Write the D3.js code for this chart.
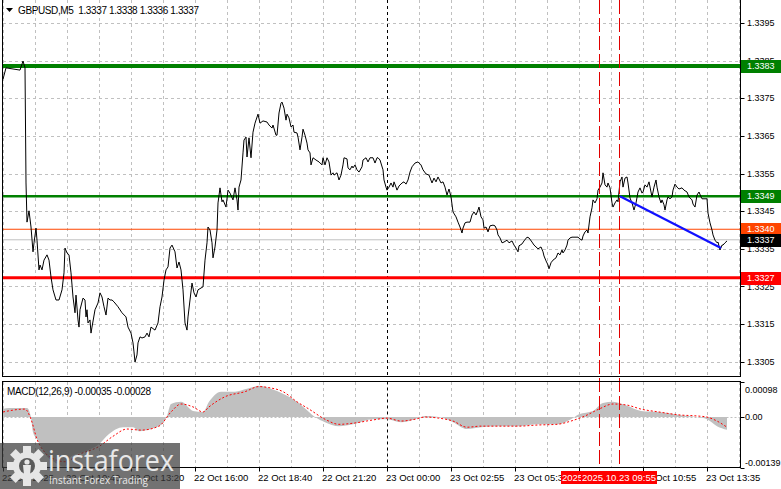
<!DOCTYPE html>
<html>
<head>
<meta charset="utf-8">
<script src="https://cdn.jsdelivr.net/npm/d3@7"></script>
<style>
  html, body { margin: 0; padding: 0; background: #fff; }
  svg { display: block; font-family: "Liberation Sans", Arial, sans-serif; }
</style>
</head>
<body>
<div id="showBox"></div>
<script>
// price readings: [bar index, close]
const closes = [
  [0,1.33801],[1.5,1.33831],[8.5,1.33825],[10,1.33849],[11,1.33831],[11.5,1.33525],[12,1.33421],[13,1.33451],
  [14,1.33408],[15,1.33342],[15.5,1.33366],[16.5,1.33405],[17,1.33373],[18,1.33294],[18.5,1.33307],[19.5,1.33294],
  [20.5,1.33320],[22,1.33334],[23,1.33320],[24,1.33275],[25,1.33241],[26.5,1.33214],[28,1.33214],[29.5,1.33241],
  [30.5,1.33286],[31,1.33352],[32,1.33339],[33,1.33334],[34,1.33286],[35,1.33222],[36,1.33180],[36.5,1.33227],
  [37.5,1.33161],[38,1.33142],[38.5,1.33188],[40,1.33219],[41,1.33214],[41.5,1.33169],[42,1.33188],[42.5,1.33153],
  [43.5,1.33161],[44,1.33126],[44.5,1.33142],[46,1.33188],[47.5,1.33206],[48.5,1.33233],[49.5,1.33222],[50.5,1.33196],
  [51.5,1.33174],[52.5,1.33219],[53.5,1.33214],[54.5,1.33214],[55.5,1.33209],[57.5,1.33196],[59.5,1.33180],[61.5,1.33169],
  [62.5,1.33142],[64,1.33126],[65,1.33100],[65.5,1.33076],[66,1.33049],[67,1.33068],[67.5,1.33100],[68.5,1.33116],
  [69.5,1.33113],[71,1.33116],[72,1.33126],[73,1.33116],[74,1.33142],[76,1.33134],[77.5,1.33153],[78.5,1.33196],
  [79.5,1.33222],[80.5,1.33267],[81.5,1.33294],[82.5,1.33302],[83.5,1.33352],[84.5,1.33360],[86,1.33342],[87,1.33299],
  [88,1.33315],[89,1.33294],[90,1.33241],[91,1.33153],[92,1.33134],[92.5,1.33169],[93.5,1.33214],[94.5,1.33259],
  [95.5,1.33233],[96.5,1.33222],[97.5,1.33241],[100,1.33249],[101,1.33320],[102,1.33366],[102.5,1.33408],[103.5,1.33400],
  [104.5,1.33366],[105,1.33326],[106,1.33355],[107,1.33400],[107.5,1.33472],[108.5,1.33512],[109.5,1.33475],[110,1.33480],
  [111.5,1.33461],[112.5,1.33506],[113.5,1.33498],[115,1.33480],[116,1.33512],[117,1.33480],[117.5,1.33453],[118,1.33514],
  [119,1.33533],[120,1.33605],[120.5,1.33639],[121.5,1.33647],[122,1.33594],[123,1.33645],[124,1.33592],[125,1.33660],
  [126,1.33684],[127.5,1.33708],[128.5,1.33684],[130,1.33690],[132,1.33687],[133,1.33679],[134.5,1.33671],[135,1.33679],
  [136.5,1.33652],[137,1.33652],[138,1.33711],[139,1.33737],[139.5,1.33740],[140.5,1.33724],[141.5,1.33692],[142,1.33708],
  [143,1.33698],[144,1.33674],[145,1.33679],[145.5,1.33660],[147,1.33658],[147.5,1.33647],[148.5,1.33613],[149.5,1.33647],
  [150,1.33668],[151,1.33652],[152,1.33631],[152.5,1.33613],[153.5,1.33605],[154,1.33573],[155,1.33592],[156.5,1.33586],
  [158,1.33581],[159.5,1.33573],[160,1.33592],[161,1.33573],[162,1.33592],[163,1.33581],[164,1.33546],[165,1.33552],
  [165.5,1.33546],[167,1.33552],[168,1.33533],[169,1.33546],[170,1.33573],[170.5,1.33592],[172,1.33589],[172.5,1.33565],
  [173.5,1.33560],[174.5,1.33570],[175,1.33565],[176,1.33573],[177,1.33560],[178,1.33554],[179.5,1.33568],[180,1.33586],
  [181.5,1.33592],[182.5,1.33581],[183.5,1.33592],[185,1.33592],[186,1.33578],[187,1.33592],[187.5,1.33592],[188.5,1.33586],
  [190,1.33560],[190.5,1.33533],[191.5,1.33514],[192,1.33506],[193,1.33514],[194,1.33525],[195,1.33514],[195.5,1.33528],
  [196.5,1.33514],[197,1.33506],[198,1.33517],[199.5,1.33525],[200.5,1.33528],[201.5,1.33522],[202.5,1.33533],[203.5,1.33554],
  [204.5,1.33568],[206,1.33578],[207.5,1.33581],[209,1.33573],[210,1.33560],[211.5,1.33549],[213,1.33546],[214.5,1.33525],
  [215.5,1.33538],[216.5,1.33528],[217.5,1.33541],[219,1.33525],[220,1.33528],[221,1.33514],[222,1.33493],[223,1.33509],
  [224,1.33488],[225,1.33448],[226.5,1.33435],[227.5,1.33421],[228.5,1.33408],[229.5,1.33392],[230,1.33405],[231,1.33419],
  [232,1.33421],[233.5,1.33421],[234.5,1.33440],[235.5,1.33448],[236.5,1.33440],[237.5,1.33453],[238,1.33461],[239,1.33435],
  [240,1.33427],[240.5,1.33405],[241.5,1.33408],[242.5,1.33395],[243.5,1.33411],[245,1.33413],[246,1.33411],[247,1.33400],
  [247.5,1.33387],[248.5,1.33379],[249.5,1.33366],[250.5,1.33368],[252,1.33373],[253,1.33366],[254.5,1.33371],[255.5,1.33360],
  [256.5,1.33352],[257.5,1.33342],[258,1.33358],[259.5,1.33363],[260.5,1.33371],[262,1.33381],[263,1.33379],[264.5,1.33368],
  [265.5,1.33360],[266.5,1.33355],[267.5,1.33350],[269,1.33355],[270,1.33342],[270.5,1.33331],[271.5,1.33318],[272.5,1.33307],
  [273,1.33297],[274,1.33313],[275,1.33320],[276.5,1.33326],[277.5,1.33339],[278.5,1.33334],[279.5,1.33347],[280,1.33339],
  [281,1.33347],[282,1.33360],[282.5,1.33373],[283.5,1.33379],[284.5,1.33381],[286,1.33381],[287.5,1.33381],[288.5,1.33376],
  [289.5,1.33373],[290,1.33384],[291,1.33395],[292,1.33400],[292.5,1.33392],[293.5,1.33435],[294.5,1.33459],[295,1.33480],
  [296,1.33472],[297,1.33483],[297.5,1.33506],[298.5,1.33514],[299.5,1.33525],[300,1.33552],[301,1.33520],[302,1.33514],
  [302.5,1.33525],[303.5,1.33512],[304.5,1.33472],[305,1.33461],[306,1.33472],[307,1.33480],[307.5,1.33475],[308.5,1.33528],
  [309.5,1.33541],[310,1.33514],[311,1.33538],[312,1.33541],[312.5,1.33525],[313.5,1.33485],[314.5,1.33472],[315.5,1.33453],
  [316.5,1.33472],[317.5,1.33501],[318.5,1.33512],[319.5,1.33498],[320,1.33501],[321,1.33520],[322,1.33514],[323,1.33528],
  [324,1.33501],[324.5,1.33488],[325.5,1.33514],[326.5,1.33533],[327,1.33514],[328,1.33488],[329,1.33472],[329.5,1.33480],
  [330.5,1.33467],[331,1.33453],[332,1.33480],[332.5,1.33488],[333.5,1.33483],[334.5,1.33488],[335,1.33506],[336,1.33522],
  [337,1.33514],[338,1.33509],[339.5,1.33512],[340.5,1.33506],[342,1.33501],[343,1.33488],[344.5,1.33480],[345,1.33469],
  [346,1.33461],[347,1.33493],[348,1.33501],[349,1.33488],[349.5,1.33483],[351,1.33483],[352,1.33483],[352.5,1.33445],
  [353.5,1.33419],[354.5,1.33400],[355,1.33387],[356,1.33373],[357,1.33366],[357.5,1.33368],[358.5,1.33347],[359.5,1.33360],
  [360,1.33360],[361,1.33366],[362,1.33371]
];

// MACD main (histogram) and signal readings: [bar index, value]
const macdMain = [
  [0,0.00022],[3,0.00025],[12,0.00025],[14,0],[15,-0.00042],[17,-0.00061],[19,-0.00081],[22,-0.00109],[26,-0.00125],
  [31,-0.00137],[34,-0.00109],[41,-0.00095],[48,-0.00075],[53,-0.00047],[60,-0.00028],[65,-0.00028],[68,-0.00039],
  [75,-0.00031],[80,-0.00017],[82,0.00003],[84,0.00036],[89,0.00042],[95,0.00017],[100,0.00014],[103,0.00042],
  [109,0.0007],[116,0.0007],[122,0.00078],[128,0.00086],[134,0.00078],[140,0.00064],[147,0.00042],[153,0.00014],
  [156,0],[161,-0.00014],[168,-0.00025],[175,-0.0002],[185,-0.00006],[192,-0.00006],[199,-0.00014],[206,-0.00006],
  [211,0.00003],[218,0],[225,-0.00014],[232,-0.00033],[239,-0.00028],[248,-0.00025],[258,-0.00025],[267,-0.0002],
  [277,-0.0002],[284,-0.00006],[288,0.00008],[295,0.00017],[300,0.00039],[305,0.00042],[312,0.00031],[319,0.00017],
  [328,0.00014],[338,0.00006],[347,0],[352,-0.00006],[357,-0.00025],[362,-0.00035]
];
const macdSignal = [
  [0,0.00014],[11,0.00022],[14,-0.00006],[17,-0.00061],[21,-0.00098],[26,-0.00117],[31,-0.00123],[38,-0.00103],
  [48,-0.00081],[55,-0.00053],[62,-0.00033],[69,-0.00036],[78,-0.00025],[84,0.00014],[89,0.00036],[95,0.00028],
  [100,0.00014],[103,0.00028],[111,0.00056],[121,0.0007],[128,0.00084],[133,0.00081],[140,0.0007],[147,0.00042],
  [153,0.00022],[161,-0.00006],[168,-0.0002],[175,-0.00017],[185,-0.00008],[192,-0.00003],[199,-0.00011],[206,-0.00006],
  [211,0],[218,-0.00003],[225,-0.00011],[232,-0.00028],[239,-0.00025],[248,-0.00025],[258,-0.00025],[267,-0.00022],
  [277,-0.0002],[284,-0.00011],[291,0.00003],[298,0.00022],[305,0.00036],[312,0.00033],[319,0.00022],[328,0.00014],
  [338,0.00006],[347,0.00003],[352,0],[357,-0.00011],[362,-0.00028]
];

const priceTicks = [1.3395, 1.3385, 1.3375, 1.3365, 1.3355, 1.3345, 1.3335, 1.3325, 1.3315, 1.3305];
const levelValues = [1.33836, 1.3349, 1.33402, 1.33374, 1.33273];
const levelLabels = ["1.3383", "1.3349", "1.3340", "1.3337", "1.3327"];
const levelColors = ["#008000", "#008000", "#ff4500", "#c0c0c0", "#ff0000"];
const levelBoxColors = ["#008000", "#008000", "#ff4500", "#000000", "#ff0000"];
const levelWidths = [4, 2.5, 1, 1, 3];

const timeBars = [0, 32, 64, 96, 128, 160, 192, 224, 256, 288, 320, 352];
const timeLabels = ["22 Oct 2025", "22 Oct 10:40", "22 Oct 13:20", "22 Oct 16:00", "22 Oct 18:40", "22 Oct 21:20",
  "23 Oct 00:00", "23 Oct 02:55", "23 Oct 05:35", "23 Oct 08:15", "23 Oct 10:55", "23 Oct 13:35"];
const daySeparatorBar = 192;
const markerBars = [298, 308];
const markerLabels = ["2025.10.23 09:05", "2025.10.23 09:55"];
const trendStart = [308.5, 1.3349];
const trendEnd = [359, 1.33352];
const macdTicks = [0.00098, 0, -0.00139];
const macdTickLabels = ["0.00098", "0.00", "-0.00139"];

const W = 781, H = 489;
const left = 2.5, right = 740.5;
const main = {top: 0, bottom: 376.5};
const sub = {top: 381.5, bottom: 467.5};

const svg = d3.select("#showBox").append("svg").attr("width", W).attr("height", H);

const x = d3.scaleLinear().domain([0, 369]).range([3, 741]);
const y = d3.scaleLinear().domain([1.3305, 1.3385]).range([361.7, 60.7]);
const ym = d3.scaleLinear().domain([-0.00139, 0.00098]).range([sub.bottom, sub.top]);

svg.append("defs").call(d => {
  d.append("clipPath").attr("id", "clipMain").append("rect")
    .attr("x", left).attr("y", main.top).attr("width", right - left).attr("height", main.bottom - main.top);
  d.append("clipPath").attr("id", "clipSub").append("rect")
    .attr("x", left).attr("y", sub.top).attr("width", right - left).attr("height", sub.bottom - sub.top);
});

// grid
const gridBars = d3.range(0, 369, 16);
const grid = svg.append("g").attr("stroke", "#c0c0c0").attr("stroke-dasharray", "3,3").attr("shape-rendering", "crispEdges");
grid.selectAll(".v").data(gridBars.filter(b => b !== daySeparatorBar)).join("line")
  .attr("x1", d => Math.round(x(d)) + 0.5).attr("x2", d => Math.round(x(d)) + 0.5)
  .attr("y1", main.top).attr("y2", main.bottom);
grid.selectAll(".vs").data(gridBars.filter(b => b !== daySeparatorBar)).join("line")
  .attr("x1", d => Math.round(x(d)) + 0.5).attr("x2", d => Math.round(x(d)) + 0.5)
  .attr("y1", sub.top).attr("y2", sub.bottom);
grid.selectAll(".h").data(priceTicks).join("line")
  .attr("x1", left).attr("x2", right)
  .attr("y1", d => Math.round(y(d)) + 0.5).attr("y2", d => Math.round(y(d)) + 0.5);
svg.append("line").attr("x1", left).attr("x2", right)
  .attr("y1", Math.round(ym(0)) + 0.5).attr("y2", Math.round(ym(0)) + 0.5)
  .attr("stroke", "#c0c0c0").attr("stroke-dasharray", "2,2");

// day separator
[[main.top, main.bottom], [sub.top, sub.bottom]].forEach(([a, b]) => {
  svg.append("line").attr("x1", Math.round(x(daySeparatorBar)) + 0.5).attr("x2", Math.round(x(daySeparatorBar)) + 0.5)
    .attr("y1", a).attr("y2", b).attr("stroke", "#000").attr("stroke-dasharray", "3,3");
});

// MACD histogram and signal
const gSub = svg.append("g").attr("clip-path", "url(#clipSub)");
gSub.append("path").datum(macdMain)
  .attr("fill", "#c0c0c0")
  .attr("d", d3.area().x(d => x(d[0])).y0(ym(0)).y1(d => ym(d[1])).curve(d3.curveMonotoneX));
gSub.append("path").datum(macdSignal)
  .attr("fill", "none").attr("stroke", "#ff0000").attr("stroke-width", 1).attr("stroke-dasharray", "2,2")
  .attr("d", d3.line().x(d => x(d[0])).y(d => ym(d[1])).curve(d3.curveMonotoneX));

// level lines
const gMain = svg.append("g").attr("clip-path", "url(#clipMain)");
gMain.selectAll(".lvl").data(levelValues).join("line")
  .attr("x1", left).attr("x2", right)
  .attr("y1", d => y(d)).attr("y2", d => y(d))
  .attr("stroke", (d, i) => levelColors[i]).attr("stroke-width", (d, i) => levelWidths[i]);

// price line
gMain.append("path").datum(closes)
  .attr("fill", "none").attr("stroke", "#000").attr("stroke-width", 1)
  .attr("d", d3.line().x(d => x(d[0])).y(d => y(d[1])));

// trend line
gMain.append("line")
  .attr("x1", x(trendStart[0])).attr("y1", y(trendStart[1]))
  .attr("x2", x(trendEnd[0])).attr("y2", y(trendEnd[1]))
  .attr("stroke", "#1010ff").attr("stroke-width", 2.2);

// red vertical markers
markerBars.forEach(b => {
  svg.append("line").attr("x1", Math.round(x(b)) + 0.5).attr("x2", Math.round(x(b)) + 0.5)
    .attr("y1", main.top).attr("y2", sub.bottom)
    .attr("stroke", "#e00000").attr("stroke-dasharray", "14,4");
});

// frames (no top edge on the price window)
const frames = svg.append("g").attr("fill", "none").attr("stroke", "#000").attr("shape-rendering", "crispEdges");
frames.append("path").attr("d", `M${left},${main.top}V${main.bottom}H${right}V${main.top}`);
frames.append("rect").attr("x", left).attr("y", sub.top).attr("width", right - left).attr("height", sub.bottom - sub.top);

// right price axis
const ax = svg.append("g").attr("font-size", 9).attr("fill", "#000");
ax.selectAll(".pt").data(priceTicks).join("line")
  .attr("x1", right).attr("x2", right + 4)
  .attr("y1", d => Math.round(y(d)) + 0.5).attr("y2", d => Math.round(y(d)) + 0.5)
  .attr("stroke", "#000");
ax.selectAll(".ptl").data(priceTicks).join("text")
  .attr("x", 747).attr("y", d => y(d)).attr("dy", "0.35em").text(d => d.toFixed(4));

levelValues.forEach((v, i) => {
  const yy = Math.round(y(v));
  ax.append("rect").attr("x", 741).attr("y", yy - 6).attr("width", 40).attr("height", 13)
    .attr("fill", levelBoxColors[i]);
  ax.append("text").attr("x", 747).attr("y", yy).attr("dy", "0.36em").attr("fill", "#fff").text(levelLabels[i]);
});

// MACD axis
ax.selectAll(".mt").data(macdTicks).join("line")
  .attr("x1", right).attr("x2", right + 4)
  .attr("y1", d => Math.round(ym(d)) + 0.5).attr("y2", d => Math.round(ym(d)) + 0.5).attr("stroke", "#000");
ax.selectAll(".mtl").data(macdTicks).join("text")
  .attr("x", 745).attr("dy", "0.35em")
  .attr("y", (d, i) => i === 0 ? ym(d) + 8 : i === 2 ? ym(d) - 5 : ym(d))
  .text((d, i) => macdTickLabels[i]);

// time axis
const tx = svg.append("g").attr("font-size", 9.5).attr("fill", "#000");
tx.selectAll("line").data(timeBars).join("line")
  .attr("x1", d => Math.round(x(d)) + 0.5).attr("x2", d => Math.round(x(d)) + 0.5)
  .attr("y1", sub.bottom).attr("y2", sub.bottom + 4).attr("stroke", "#000");
tx.selectAll("text").data(timeBars).join("text")
  .attr("x", d => x(d) - 1).attr("y", 481).text((d, i) => timeLabels[i]);

markerBars.forEach((b, i) => {
  const cx = x(b);
  tx.append("rect").attr("x", cx - 38).attr("y", 471).attr("width", 76).attr("height", 13).attr("fill", "#ff0000");
  tx.append("text").attr("x", cx).attr("y", 481).attr("text-anchor", "middle").attr("fill", "#fff").text(markerLabels[i]);
});

// title and indicator label
svg.append("path").attr("d", "M6,8 L13,8 L9.5,12 Z").attr("fill", "#000");
svg.append("text").attr("x", 18).attr("y", 14).attr("font-size", 10)
  .attr("textLength", 181).attr("lengthAdjust", "spacing")
  .text("GBPUSD,M5\u00a0 1.3337 1.3338 1.3336 1.3337");
svg.append("text").attr("x", 7).attr("y", 395).attr("font-size", 10)
  .attr("textLength", 144).attr("lengthAdjust", "spacing")
  .text("MACD(12,26,9) -0.00035 -0.00028");

// watermark
const logo = svg.append("g");
logo.append("rect").attr("x", 0).attr("y", 443).attr("width", 180).attr("height", 46)
  .attr("fill", "#3c3c3c").attr("opacity", 0.72);
const gear = logo.append("g").attr("transform", "translate(27,466)").attr("fill", "#e6e6e6");
d3.range(8).forEach(k => {
  gear.append("rect").attr("x", -4).attr("y", -20).attr("width", 8).attr("height", 9)
    .attr("transform", `rotate(${k * 45})`);
});
gear.append("circle").attr("r", 14);
gear.append("circle").attr("r", 8).attr("fill", "#5a5a5a");
gear.append("circle").attr("cy", -4).attr("r", 2.6);
gear.append("path").attr("d", "M-4,-1 L4,-1 L3,9 L-3,9 Z");
logo.append("text").attr("x", 48).attr("y", 471).attr("font-family", "'Open Sans', sans-serif")
  .attr("font-size", 29).attr("fill", "#e8e8e8").attr("textLength", 126).attr("lengthAdjust", "spacingAndGlyphs")
  .text("instaforex");
logo.append("text").attr("x", 49).attr("y", 484).attr("font-family", "'Open Sans', sans-serif")
  .attr("font-size", 10.5).attr("fill", "#e8e8e8").attr("textLength", 99).attr("lengthAdjust", "spacingAndGlyphs")
  .text("Instant Forex Trading");
</script>
</body>
</html>
